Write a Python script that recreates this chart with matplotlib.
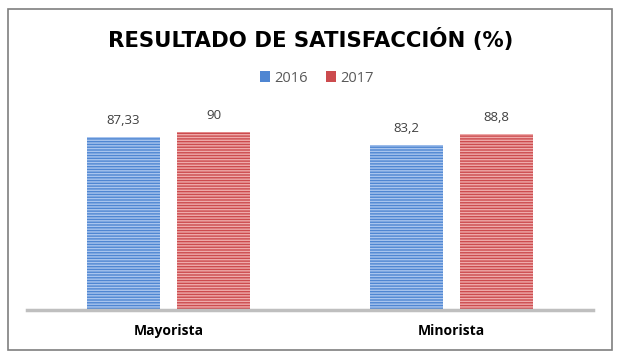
import numpy as np
import matplotlib.pyplot as plt
from matplotlib.patches import Rectangle

plt.rcParams['font.family'] = ['Open Sans', 'DejaVu Sans']
plt.rcParams['hatch.linewidth'] = 1.0

# datos
categorias = ['Mayorista', 'Minorista']
anios = ['2016', '2017']
valores_2016 = [87.33, 83.2]
valores_2017 = [90, 88.8]
etiquetas_2016 = ['87,33', '83,2']
etiquetas_2017 = ['90', '88,8']

colores = {'2016': ('#4f86d2', '#a9c5ee'), '2017': ('#cc4b4e', '#efabab')}

fig = plt.figure(figsize=(6.25, 3.64), dpi=100)
fig.patches.append(Rectangle((8 / 625, 1 - 350 / 364), 604 / 625, 341 / 364,
                             transform=fig.transFigure, fill=False,
                             edgecolor='#7f7f7f', linewidth=1.2))

ax = fig.add_axes([27 / 625, 1 - 310 / 364, 566 / 625, 0.544])
x = np.arange(len(categorias))
ancho = 0.255
desp = 0.159

for serie, vals, etiq, sgn in [('2016', valores_2016, etiquetas_2016, -1),
                              ('2017', valores_2017, etiquetas_2017, 1)]:
    base, claro = colores[serie]
    pos = x + sgn * desp
    ax.bar(pos, vals, ancho, color=base, edgecolor='none', label=serie)
    ax.bar(pos, vals, ancho, facecolor='none', edgecolor=claro,
           hatch='------', linewidth=0)
    for p, v, t in zip(pos, vals, etiq):
        ax.text(p, v + 5, t, ha='center', va='bottom', fontsize=9.5,
                color='#404040')

ax.set_xlim(-0.5, 1.5)
ax.set_ylim(0, 100)
ax.set_yticks([])
ax.set_xticks(x)
ax.set_xticklabels(categorias, fontsize=10, fontweight='bold', color='black')
ax.tick_params(axis='x', length=0, pad=10)
for s in ['top', 'right', 'left']:
    ax.spines[s].set_visible(False)
ax.spines['bottom'].set_color('#bfbfbf')
ax.spines['bottom'].set_linewidth(2.5)

fig.text(0.497, 1 - 40 / 364, 'RESULTADO DE SATISFACCIÓN (%)', ha='center',
         va='center', fontsize=15.3, fontweight='bold', color='black',
         family=['DejaVu Sans'])

h = [Rectangle((0, 0), 1, 1, facecolor=colores[a][0], edgecolor='none') for a in anios]
fig.legend(h, anios, loc='center', bbox_to_anchor=(0.507, 1 - 78 / 364), ncol=2,
           frameon=False, fontsize=10.5, handlelength=0.7, handleheight=0.7,
           handletextpad=0.3, columnspacing=1.2, labelcolor='#595959')

fig.savefig('out.png', dpi=100)
